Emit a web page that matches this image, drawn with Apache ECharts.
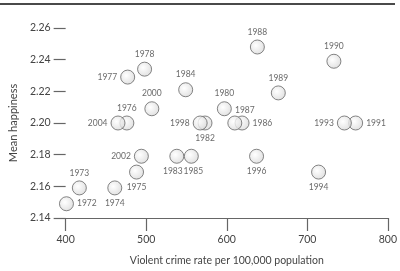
<!DOCTYPE html>
<html>
<head>
<meta charset="utf-8">
<script src="https://cdn.jsdelivr.net/npm/echarts@6/dist/echarts.min.js"></script>
<style>
  html, body { margin: 0; padding: 0; background: #fff; }
  #main { width: 400px; height: 271px; }
</style>
</head>
<body>
<div id="main"></div>
<script>
// year labels, crime rate (x), mean happiness (y)
var years = ['1971', '1972', '1973', '1974', '1975', '1976', '1977', '1978', '1980', '1982',
    '1983', '1984', '1985', '1986', '1987', '1988', '1989', '1990', '1991', '1993',
    '1994', '1996', '1998', '2000', '2002', '2004'];
var crimeRate = [396, 401, 417, 461, 488, 476, 477, 498, 597, 573,
    538, 549, 556, 619, 610, 638, 664, 733, 760, 746,
    714, 637, 567, 507, 494, 465];
var happiness = [2.189, 2.149, 2.159, 2.159, 2.169, 2.200, 2.229, 2.234, 2.209, 2.200,
    2.179, 2.221, 2.179, 2.200, 2.200, 2.248, 2.219, 2.239, 2.200, 2.200,
    2.169, 2.179, 2.200, 2.209, 2.179, 2.200];

var xTicks = [400, 500, 600, 700, 800];
var yTicks = [2.14, 2.16, 2.18, 2.20, 2.22, 2.24, 2.26];

// where each year label sits next to its circle
var labelPos = ['right', 'right', 'top', 'bottom', 'bottom', 'top', 'left', 'top', 'top', 'bottom',
    'bottomleft', 'top', 'bottomright', 'right', 'topright', 'top', 'top', 'top', 'right', 'left',
    'bottom', 'bottom', 'left', 'top', 'left', 'left'];

var myChart = echarts.init(document.getElementById('main'), null, {renderer: 'canvas'});
var fontName = 'Lato, "Noto Sans", sans-serif';

function genData() {
    var seriesData = [];
    for (var i = 0; i < years.length; i++) {
        var pos = labelPos[i];
        var label = {position: pos, distance: 3};
        if (pos == 'topright') {
            label = {position: 'top', distance: 1, offset: [10, 0]};
        } else if (pos == 'bottomleft') {
            label = {position: 'bottom', distance: 3, offset: [-4, 0]};
        } else if (pos == 'bottomright') {
            label = {position: 'bottom', distance: 3, offset: [2, 0]};
        }
        seriesData.push({
            name: years[i],
            value: [crimeRate[i], happiness[i]],
            label: label
        });
    }
    return seriesData;
}

var option = {
    animation: false,
    textStyle: {fontFamily: fontName},
    grid: {left: 49, right: 7, top: 28, bottom: 50, containLabel: false},
    graphic: [{
        type: 'line',
        shape: {x1: 0, y1: 4, x2: 395, y2: 4},
        style: {stroke: '#4a4a4a', lineWidth: 2}
    }],
    xAxis: {
        type: 'value',
        min: xTicks[0],
        max: xTicks[xTicks.length - 1],
        interval: 100,
        name: 'Violent crime rate per 100,000 population',
        nameLocation: 'middle',
        nameGap: 37,
        nameTextStyle: {fontSize: 10.5, color: '#444', fontFamily: fontName},
        splitLine: {show: false},
        axisLine: {show: true, lineStyle: {color: '#666', width: 1.2}},
        axisTick: {show: true, length: 13, lineStyle: {color: '#666', width: 1.2}},
        axisLabel: {margin: 16, fontSize: 10.5, color: '#444', fontFamily: fontName}
    },
    yAxis: {
        type: 'value',
        min: yTicks[0],
        max: yTicks[yTicks.length - 1],
        interval: 0.02,
        name: 'Mean happiness',
        nameLocation: 'middle',
        nameGap: 40,
        nameTextStyle: {fontSize: 11, color: '#444', fontFamily: fontName},
        splitLine: {show: false},
        axisLine: {show: false},
        axisTick: {show: true, length: 12, lineStyle: {color: '#666', width: 1.2}},
        axisLabel: {
            margin: 15, fontSize: 10.5, color: '#444', fontFamily: fontName,
            formatter: function (v) { return v.toFixed(2); }
        }
    },
    series: [{
        type: 'scatter',
        symbol: 'circle',
        symbolSize: 14,
        data: genData(),
        itemStyle: {
            color: new echarts.graphic.RadialGradient(0.4, 0.4, 0.7, [
                {offset: 0, color: '#ffffff'},
                {offset: 1, color: '#d4d4d4'}
            ]),
            borderColor: '#666',
            borderWidth: 1
        },
        label: {
            show: true,
            formatter: '{b}',
            fontSize: 8.5,
            color: '#444',
            fontFamily: fontName
        }
    }]
};
myChart.setOption(option);
</script>
</body>
</html>
